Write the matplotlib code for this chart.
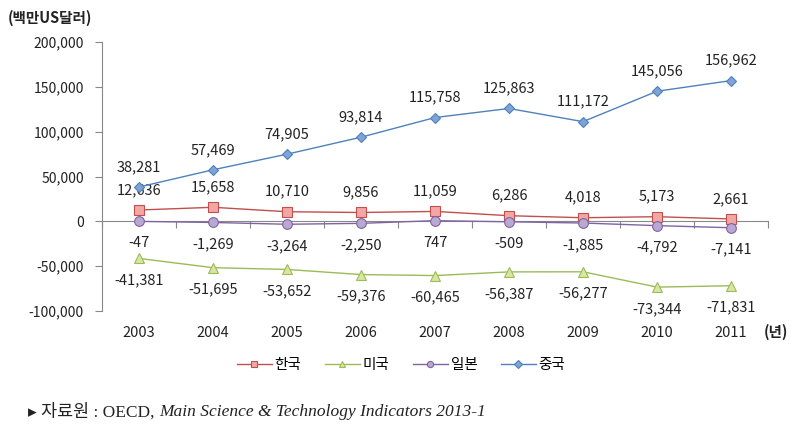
import matplotlib
matplotlib.use("Agg")
import matplotlib.pyplot as plt
import numpy as np

plt.rcParams['font.family'] = ['Noto Sans CJK KR', 'DejaVu Sans']

years = ['2003', '2004', '2005', '2006', '2007', '2008', '2009', '2010', '2011']
korea = [12636, 15658, 10710, 9856, 11059, 6286, 4018, 5173, 2661]
usa = [-41381, -51695, -53652, -59376, -60465, -56387, -56277, -73344, -71831]
japan = [-47, -1269, -3264, -2250, 747, -509, -1885, -4792, -7141]
china = [38281, 57469, 74905, 93814, 115758, 125863, 111172, 145056, 156962]
names = ['한국', '미국', '일본', '중국']
yticks = [-100000, -50000, 0, 50000, 100000, 150000, 200000]

fig = plt.figure(figsize=(8.07, 4.37), dpi=100)
ax = fig.add_axes([102/807, 1-311/437, 666/807, 269/437])
x = np.arange(len(years))

styles = [
    (korea, '#c0504d', '#f2a7a5', 's', 7, 'above'),
    (usa, '#9bbb59', '#d7e6a3', '^', 7, 'below'),
    (japan, '#8064a2', '#b9a8d1', 'o', 7, 'below'),
    (china, '#4f81bd', '#7fa3d4', 'D', 5, 'above'),
]
handles = []
for (vals, lc, fc, mk, ms, pos), nm in zip(styles, names):
    ax.plot(x, vals, color=lc, lw=1.0, marker=mk, ms=ms, mfc=fc, mec=lc, mew=0.8,
            zorder=3)
    h, = ax.plot([], [], color=lc, lw=1.0, marker=mk, ms=4.5, mfc=fc, mec=lc, mew=0.8,
                 label=nm)
    handles.append(h)
    for xi, v in zip(x, vals):
        off = 20 if pos == 'above' else -22
        ax.annotate(f"{v:,}", (xi, v), textcoords='offset pixels', xytext=(0, off),
                    ha='center', va='center', fontsize=10.5, color='#222222')

ax.set_xlim(-0.5, len(years) - 0.5)
ax.set_ylim(-100000, 200000)
ax.set_yticks(yticks)
ax.set_yticklabels([f"{t:,}" for t in yticks])
ax.tick_params(axis='y', length=5, direction='out', color='#888888', labelsize=10,
               labelcolor='#222222', pad=8)
ax.set_xticks(x)
ax.set_xticklabels(years)
ax.tick_params(axis='x', length=0, labelsize=10.5, labelcolor='#222222', pad=11)
for s in ['top', 'right', 'bottom']:
    ax.spines[s].set_visible(False)
ax.spines['left'].set_color('#888888')

sec = ax.secondary_xaxis(100000/300000)
sec.set_xticks(np.arange(len(years) + 1) - 0.5)
sec.tick_params(length=5, direction='out', color='#888888', labelbottom=False, labeltop=False)
sec.spines['bottom'].set_color('#888888')

fig.text(8/807, 1-18/437, '(백만US달러)', fontsize=10.5, fontweight='bold', color='#222222',
         va='center', ha='left')
fig.text(764/807, 1-332/437, '(년)', fontsize=10.5, fontweight='bold', color='#222222',
         va='center', ha='left')

leg = fig.legend(handles=handles, loc='center', bbox_to_anchor=(401/807, 1-365/437), ncol=4,
                 frameon=False, fontsize=10.5, handlelength=2.4, columnspacing=1.6,
                 handletextpad=0.2)

t1 = fig.text(28/807, 1-412/437, '▸ 자료원 : OECD, ', fontsize=12.5,
              family=['Liberation Serif', 'Noto Sans CJK KR', 'DejaVu Sans'],
              va='center', ha='left', color='#222222')
fig.add_artist(matplotlib.text.Annotation(
    'Main Science & Technology Indicators 2013-1', xy=(1, 0.5), xycoords=t1,
    xytext=(0, 0), textcoords='offset points', va='center', ha='left',
    fontsize=12.5, style='italic', family=['Liberation Serif', 'DejaVu Sans'],
    color='#222222', annotation_clip=False))

fig.savefig('out.png', dpi=100)
